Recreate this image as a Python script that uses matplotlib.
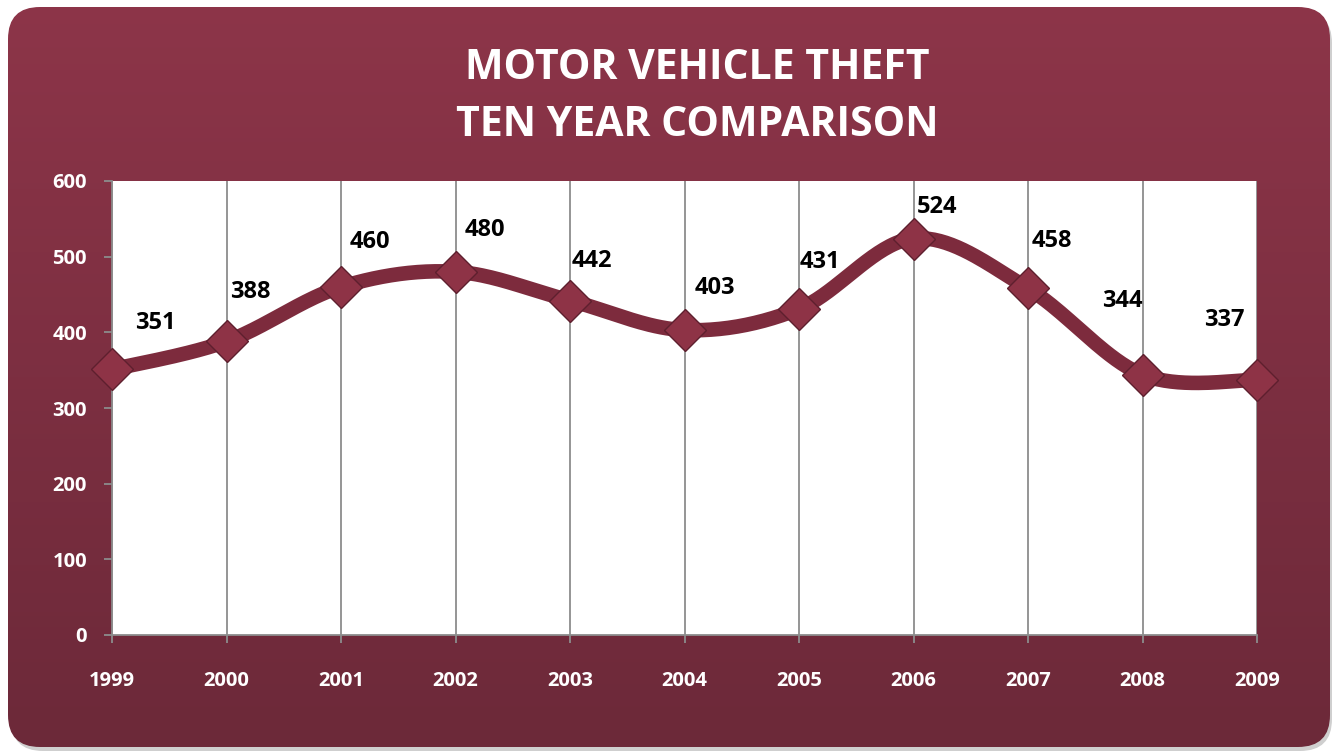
import numpy as np
import matplotlib
matplotlib.use("Agg")
import matplotlib.pyplot as plt
from matplotlib.patches import FancyBboxPatch

YEARS = ["1999", "2000", "2001", "2002", "2003", "2004", "2005", "2006", "2007", "2008", "2009"]
THEFTS = [351, 388, 460, 480, 442, 403, 431, 524, 458, 344, 337]
Y_TICKS = [0, 100, 200, 300, 400, 500, 600]
TITLE = "MOTOR VEHICLE THEFT\nTEN YEAR COMPARISON"

# label offsets (pixels) as Excel placed them
LABEL_DX = [43, 24, 29, 29, 22, 30, 21, 24, 24, -20, -33]
LABEL_DY = [46, 49, 45, 42, 40, 42, 47, 32, 47, 74, 60]

LINE_C = "#7d2b3d"
W, H = 1337, 754


def smooth(xs, ys, n=40):
    # Excel-like smoothed line: cubic bezier, control points from neighbours (1/6)
    xs = np.asarray(xs, float)
    ys = np.asarray(ys, float)
    px, py = [], []
    for i in range(len(xs) - 1):
        i0, i3 = max(i - 1, 0), min(i + 2, len(xs) - 1)
        c1x = xs[i] + (xs[i + 1] - xs[i0]) / 6
        c1y = ys[i] + (ys[i + 1] - ys[i0]) / 6
        c2x = xs[i + 1] - (xs[i3] - xs[i]) / 6
        c2y = ys[i + 1] - (ys[i3] - ys[i]) / 6
        t = np.linspace(0, 1, n)
        a, b, c, d = (1 - t) ** 3, 3 * (1 - t) ** 2 * t, 3 * (1 - t) * t ** 2, t ** 3
        px.extend(a * xs[i] + b * c1x + c * c2x + d * xs[i + 1])
        py.extend(a * ys[i] + b * c1y + c * c2y + d * ys[i + 1])
    return np.array(px), np.array(py)


plt.rcParams["font.family"] = ["Open Sans", "DejaVu Sans"]
fig = plt.figure(figsize=(W / 100, H / 100), dpi=100)

# ---- background: rounded maroon panel with vertical gradient ----
bg = fig.add_axes([0, 0, 1, 1])
bg.set_xlim(0, W)
bg.set_ylim(H, 0)
bg.axis("off")
shadow = FancyBboxPatch((11, 11), 1321, 740, boxstyle="round,pad=0,rounding_size=32",
                        fc="#cfcfcf", ec="none", zorder=0)
bg.add_patch(shadow)
panel = FancyBboxPatch((8, 7), 1322, 740, boxstyle="round,pad=0,rounding_size=32",
                       fc="none", ec="none", zorder=1)
bg.add_patch(panel)
grad = np.linspace(0, 1, 256)[:, None]
top = np.array([141, 53, 73]) / 255
bot = np.array([108, 41, 57]) / 255
img = top[None, None, :] * (1 - grad[..., None]) + bot[None, None, :] * grad[..., None]
im = bg.imshow(img, extent=[0, W, H, 0], aspect="auto", zorder=2)
im.set_clip_path(panel)

# ---- plot ----
ax = fig.add_axes([112 / W, 1 - 635 / H, (1257 - 112) / W, (635 - 181) / H])
ax.set_facecolor("white")
x = np.arange(len(YEARS))
sx, sy = smooth(x, THEFTS)
ax.plot(sx, sy, color=LINE_C, lw=10.5, solid_capstyle="round", zorder=3, clip_on=False)
ax.plot(x, THEFTS, ls="none", marker="D", ms=21, mfc="#8e3346", mec="#5e1f2e",
        mew=1.0, zorder=4, clip_on=False)

for i, v in enumerate(THEFTS):
    ax.annotate(str(v), (x[i], v), xytext=(LABEL_DX[i], LABEL_DY[i]),
                textcoords="offset pixels", ha="center", va="center",
                fontsize=17, fontweight="bold", color="black", zorder=5)

ax.set_xlim(0, len(YEARS) - 1)
ax.set_ylim(0, 600)
ax.set_xticks(x)
ax.set_xticklabels(YEARS, fontweight="bold")
ax.set_yticks(Y_TICKS)
ax.set_yticklabels([str(t) for t in Y_TICKS], fontweight="bold")
ax.grid(axis="x", color="#8c8c8c", lw=1.3)
ax.set_axisbelow(True)
for s in ["top", "right"]:
    ax.spines[s].set_visible(False)
for s in ["left", "bottom"]:
    ax.spines[s].set_color("#8c8c8c")
    ax.spines[s].set_linewidth(1.3)
ax.tick_params(axis="both", colors="#8c8c8c", length=6, width=1.3, direction="out")
ax.tick_params(axis="x", labelcolor="white", labelsize=14.5, pad=20)
ax.tick_params(axis="y", labelcolor="white", labelsize=14.5, pad=12)

fig.text(697 / W, 1 - 97 / H, TITLE, ha="center", va="center", color="white",
         fontsize=29.5, fontweight="bold", linespacing=1.5)

fig.savefig("out.png", dpi=100)
